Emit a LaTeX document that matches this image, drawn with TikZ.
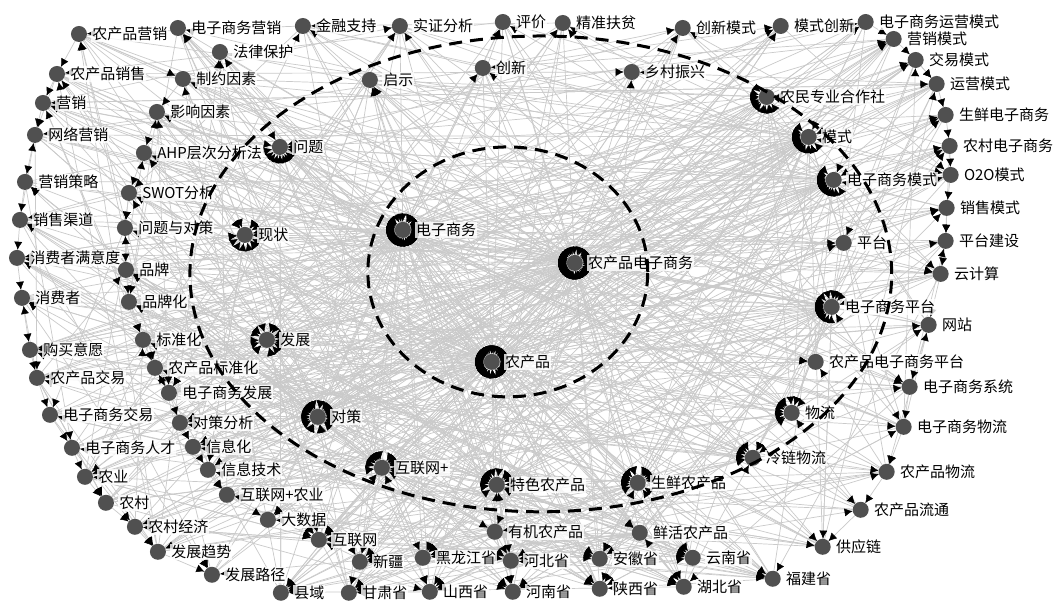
\documentclass[tikz,border=0pt]{standalone}
\usepackage{fontspec}
\setmainfont{Noto Sans CJK SC}
\usetikzlibrary{arrows.meta,calc}
\pgfdeclarelayer{paper}
\pgfdeclarelayer{bg}
\pgfdeclarelayer{tips}
\pgfsetlayers{paper,bg,tips,main}
\definecolor{dotgray}{HTML}{505050}
\definecolor{edgegray}{HTML}{CACACA}
\newcommand\edgelist{%
  \foreach \i in {1,...,89} { \E{\i}{90} \E{\i}{91} \E{\i}{92} }
  \E{90}{92} \E{91}{92} \E{90}{91} \E{92}{90}
  \foreach \h/\s in {75/2, 83/3, 84/3, 86/3, 74/4, 73/4, 72/4, 77/6, 78/6, 76/5, 88/6, 89/7, 64/7, 82/7} {
    \foreach \i in {1,...,89} {
      \pgfmathtruncatemacro\r{mod(\i+\h,\s)}
      \ifnum\r=0 \ifnum\i=\h\else \E{\i}{\h}\fi\fi
    }
  }
  \foreach \p in {18,19,20,21,22,23,24,65,66,67,68,69} {
    \foreach \s in {73,72,74,71,70} { \E{\s}{\p} }
  }
  \foreach \i [evaluate=\i as \j using int(\i+1)] in {1,...,16} { \E{\i}{\j} }
  \foreach \i [evaluate=\i as \j using int(\i+1)] in {49,...,62} { \E{\i}{\j} }
  \foreach \i [evaluate=\i as \j using int(\i-1)] in {40,...,26} { \E{\i}{\j} }
  \pgfmathsetseed{20}
  \foreach \i in {1,...,89} {
    \foreach \k in {1,2,3} {
      \pgfmathtruncatemacro\j{random(1,89)}
      \ifnum\j=\i\else \E{\j}{\i}\fi
    }
  }%
}
\begin{document}
\begin{tikzpicture}[x=1pt,y=-1pt,
 dot/.style={circle,fill=dotgray,minimum size=16pt,inner sep=0pt,draw=none},
 lab/.style={anchor=west,fill=white,fill opacity=0.8,text opacity=1,inner sep=1pt,font=\fontsize{15}{16}\selectfont},
 edgeline/.style={draw=edgegray,line width=0.7pt},
 edgetip/.style={draw=black,line width=0.5pt,-{Latex[length=8pt,width=8pt]}},
 dashring/.style={draw=black,line width=3pt,dash pattern=on 13pt off 8pt}]
\begin{pgfonlayer}{paper}
\useasboundingbox[fill=white] (0,0) rectangle (1054,600);
\end{pgfonlayer}
\foreach \i/\x/\y/\t in {
1/79/34/农产品营销, 2/57/74/农产品销售, 3/43/103/营销, 4/35/135/网络营销,
5/25/182/营销策略, 6/20/220/销售渠道, 7/17/258/消费者满意度, 8/22/298/消费者,
9/30/350/购买意愿, 10/37/378/农产品交易, 11/50/415/电子商务交易, 12/72/448/电子商务人才,
13/85/477/农业, 14/106/503/农村, 15/135/527/农村经济, 16/158/552/发展趋势,
17/212/575/发展路径, 18/281/593/县域, 19/349/593/甘肃省, 20/430/592/山西省,
21/513/592/河南省, 22/600/589/陕西省, 23/684/587/湖北省, 24/773/579/福建省,
25/823/547/供应链, 26/861/510/农产品流通, 27/887/472/农产品物流, 28/904/427/电子商务物流,
29/910/387/电子商务系统, 30/929/325/网站, 31/941/274/云计算, 32/946/241/平台建设,
33/947/208/销售模式, 34/951/175/O2O模式, 35/950/146/农村电子商务, 36/946/115/生鲜电子商务,
37/937/84/运营模式, 38/916/60/交易模式, 39/894/39/营销模式, 40/866/22/电子商务运营模式,
41/781/26/模式创新, 42/683/28/创新模式, 43/563/23/精准扶贫, 44/503/22/评价,
45/400/26/实证分析, 46/303/26/金融支持, 47/178/28/电子商务营销, 48/220/52/法律保护,
49/183/79/制约因素, 50/157/112/影响因素, 51/144/153/AHP层次分析法, 52/129/193/SWOT分析,
53/125/228/问题与对策, 54/126/270/品牌, 55/129/302/品牌化, 56/143/340/标准化,
57/155/368/农产品标准化, 58/169/393/电子商务发展, 59/180/423/对策分析, 60/193/447/信息化,
61/208/470/信息技术, 62/227/495/互联网+农业, 63/268/520/大数据, 64/319/540/互联网,
65/360/562/新疆, 66/423/558/黑龙江省, 67/511/561/河北省, 68/600/559/安徽省,
69/693/558/云南省, 70/640/533/鲜活农产品, 71/495/532/有机农产品, 72/638/483/生鲜农产品,
73/497/485/特色农产品, 74/382/468/互联网+, 75/318/417/对策, 76/267/340/发展,
77/245/235/现状, 78/280/147/问题, 79/370/80/启示, 80/483/68/创新,
81/632/72/乡村振兴, 82/767/97/农民专业合作社, 83/809/137/模式, 84/834/180/电子商务模式,
85/844/243/平台, 86/832/307/电子商务平台, 87/816/362/农产品电子商务平台, 88/792/413/物流,
89/753/458/冷链物流, 90/403/230/电子商务, 91/575/263/农产品电子商务, 92/492/362/农产品}
{
  \node[dot] (n\i) at (\x,\y) {};
  \node[lab] (l\i) at ([xshift=4pt]n\i.east) {\t};
}
\begin{pgfonlayer}{bg}
  \def\E#1#2{\draw[edgeline] (n#1) -- (n#2);}
  \edgelist
\end{pgfonlayer}
\begin{pgfonlayer}{tips}
  \def\E#1#2{\draw[edgetip] ($(n#2.center)!16pt!(n#1.center)$) -- (n#2);}
  \edgelist
\end{pgfonlayer}
\draw[dashring] (541,274) ellipse [x radius=351pt, y radius=238pt];
\draw[dashring] (508,272) ellipse [x radius=140pt, y radius=125pt];
\end{tikzpicture}
\end{document}
